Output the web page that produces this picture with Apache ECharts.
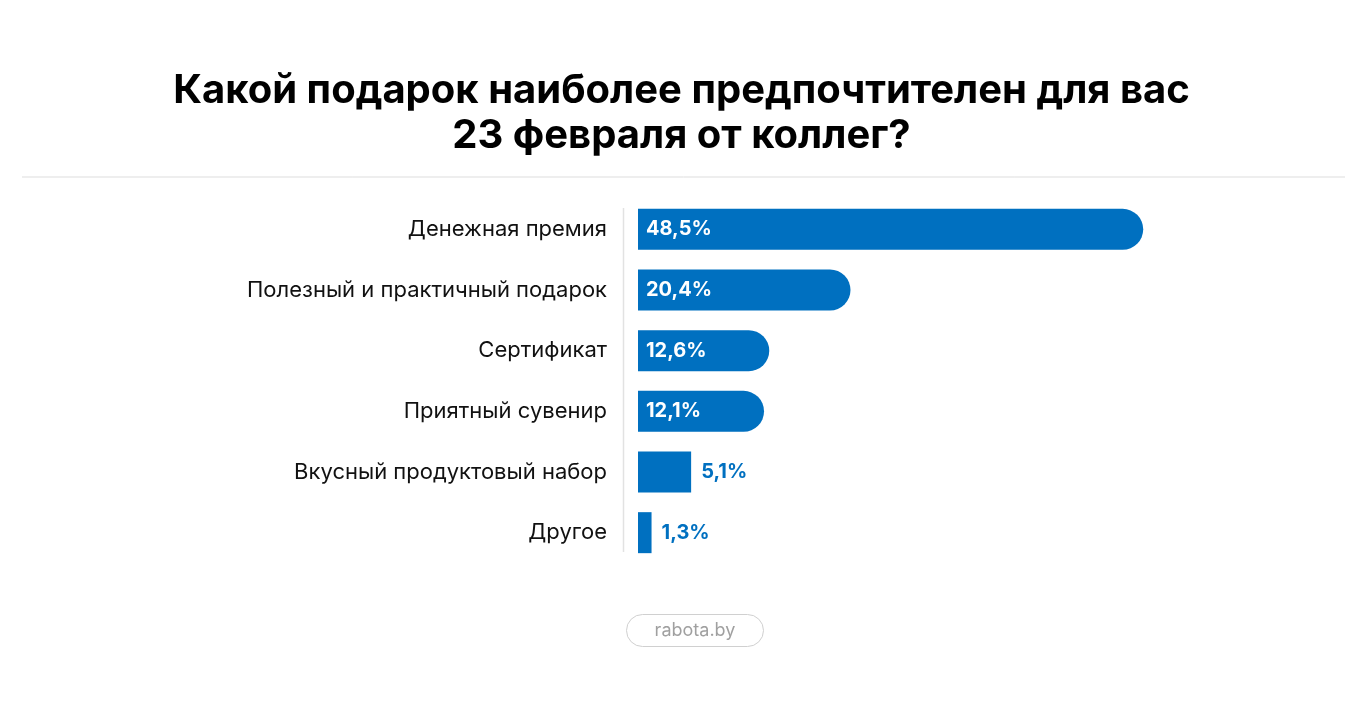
<!DOCTYPE html>
<html>
<head>
<meta charset="utf-8">
<script src="https://cdn.jsdelivr.net/npm/echarts@6/dist/echarts.min.js"></script>
<style>
  html, body { margin: 0; padding: 0; background: #fff; }
  #main { width: 1363px; height: 715px; }
</style>
</head>
<body>
<div id="main"></div>
<script>
// данные опроса
var categories = ['Денежная премия', 'Полезный и практичный подарок', 'Сертификат',
  'Приятный сувенир', 'Вкусный продуктовый набор', 'Другое'];
var values = [48.5, 20.4, 12.6, 12.1, 5.1, 1.3];

var blue = '#0070c0';

var barData = values.map(function (v) {
  var inside = v > 10;
  return {
    value: v,
    itemStyle: { borderRadius: inside ? [0, 21, 21, 0] : 0 },
    label: inside ? {
      position: 'insideLeft', distance: 8, color: '#fff'
    } : {
      position: 'right', distance: 10, color: blue
    }
  };
});

var chart = echarts.init(document.getElementById('main'));
chart.setOption({
  backgroundColor: '#fff',
  animation: false,
  title: {
    text: 'Какой подарок наиболее предпочтителен для вас\n23 февраля от коллег?',
    left: 'center',
    top: 63,
    textStyle: {
      fontFamily: 'Inter',
      fontWeight: 700,
      fontSize: 40,
      lineHeight: 45,
      color: '#000'
    }
  },
  grid: { left: 638, right: 100, top: 199, height: 364 },
  xAxis: {
    type: 'value', min: 0, max: 60, show: false
  },
  yAxis: {
    type: 'category',
    inverse: true,
    data: categories,
    axisLine: { show: false },
    axisTick: { show: false },
    axisLabel: {
      margin: 31,
      fontFamily: 'Inter',
      fontSize: 22,
      color: '#111'
    }
  },
  series: [{
    type: 'bar',
    data: barData,
    barWidth: 41,
    itemStyle: { color: blue },
    label: {
      show: true,
      fontFamily: 'Inter',
      fontWeight: 700,
      fontSize: 20,
      formatter: function (p) { return String(p.value).replace('.', ',') + '%'; }
    }
  }],
  graphic: [
    { type: 'line', shape: { x1: 22, y1: 177, x2: 1345, y2: 177 },
      style: { stroke: '#dddddd', lineWidth: 1 } },
    { type: 'line', shape: { x1: 623.5, y1: 208, x2: 623.5, y2: 552 },
      style: { stroke: '#e2e2e2', lineWidth: 1.5 } },
    { type: 'rect', shape: { x: 626.5, y: 614.5, width: 137, height: 32, r: 16 },
      style: { fill: '#fff', stroke: '#d0d0d0', lineWidth: 1 } },
    { type: 'text', x: 695, y: 631,
      style: { text: 'rabota.by', fontFamily: 'Inter', fontSize: 18, fill: '#a0a0a0',
        align: 'center', verticalAlign: 'middle' } }
  ]
});
</script>
</body>
</html>
